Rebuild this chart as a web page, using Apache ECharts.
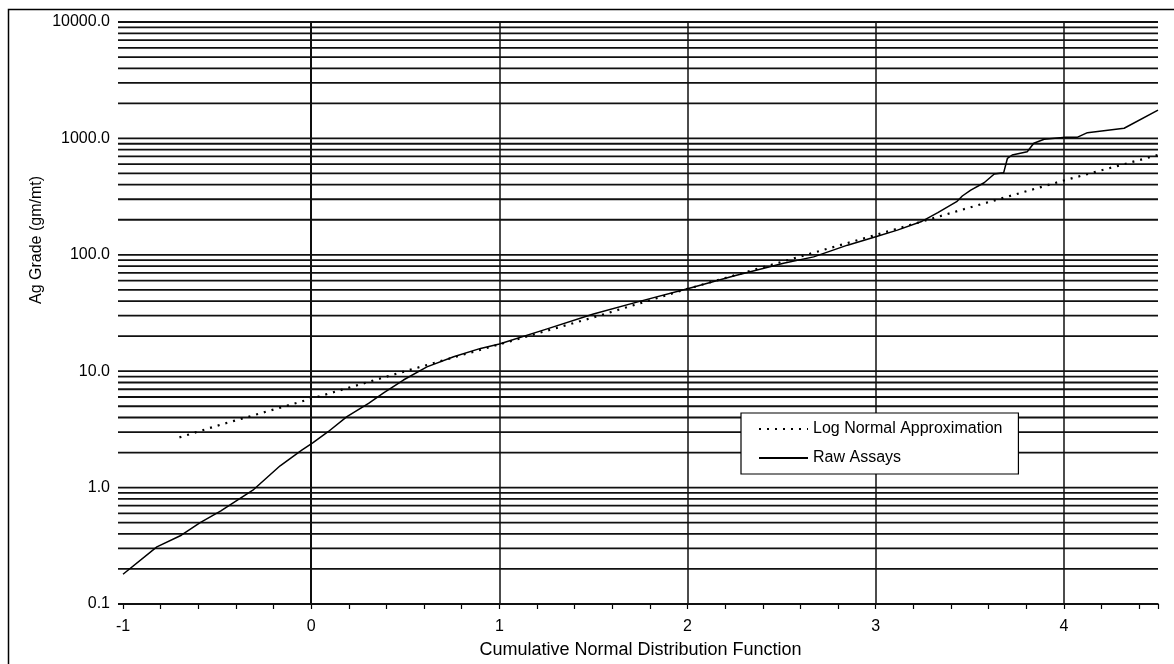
<!DOCTYPE html>
<html>
<head>
<meta charset="utf-8">
<title>Ag Grade probability plot</title>
<script src="https://cdn.jsdelivr.net/npm/echarts@6/dist/echarts.min.js"></script>
<style>
  html, body { margin: 0; padding: 0; background: #fff; }
  #chart { width: 1174px; height: 664px; }
</style>
</head>
<body>
<div id="chart"></div>
<script>
// values
const rawX = [-1, -0.82, -0.69, -0.59, -0.48, -0.31, -0.165, -0.05, 0.01, 0.09, 0.19, 0.305, 0.385, 0.49, 0.615, 0.757, 0.9, 1.0, 1.25, 1.5, 1.75, 2.0, 2.25, 2.51, 2.67, 2.85, 3.0, 3.115, 3.24, 3.33, 3.43, 3.46, 3.505, 3.576, 3.63, 3.68, 3.70, 3.725, 3.805, 3.84, 3.895, 4.01, 4.07, 4.125, 4.32, 4.5]
const rawGrade = [0.18, 0.31, 0.39, 0.50, 0.63, 0.95, 1.54, 2.1, 2.43, 3.02, 4.07, 5.3, 6.5, 8.4, 10.9, 13.3, 15.7, 17.1, 23, 31, 40, 51, 66, 84.6, 96, 121, 143, 163, 192, 230, 286, 320, 360, 416, 494, 508, 675, 720, 769, 908, 982, 1021, 1021, 1120, 1222, 1750]

const logNormalX = [-0.7, -0.5, 0, 0.5, 1, 1.5, 2, 2.5, 3, 3.5, 4, 4.5]
const logNormalGrade = [2.7, 3.4, 5.8, 10, 17, 29, 51, 87, 148, 255, 435, 720]

const xTickLabels = [-1, 0, 1, 2, 3, 4]
const yDecades = [0.1, 1, 10, 100, 1000, 10000]
const yMultipliers = [1, 2, 3, 4, 5, 6, 7, 8, 9]

// horizontal rules at every 1..9 x decade
const yGridValues = []
yDecades.forEach(d => {
  yMultipliers.forEach(m => {
    const v = +(d * m).toPrecision(3)
    if (v <= 10000) yGridValues.push(v)
  })
})

const FONT = 'Arial, "Liberation Sans", sans-serif'
const chart = echarts.init(document.getElementById('chart'))

const isInt = v => Math.abs(v - Math.round(v)) < 1e-6

const option = {
  animation: false,
  backgroundColor: '#fff',
  textStyle: { fontFamily: FONT, color: '#000' },
  graphic: [
    {
      type: 'rect',
      shape: { x: 8.5, y: 9.5, width: 1200, height: 700 },
      style: { fill: 'none', stroke: '#000', lineWidth: 1.5 },
      silent: true
    },
    {
      type: 'text',
      x: 37,
      y: 240,
      rotation: Math.PI / 2,
      style: {
        text: 'Ag Grade (gm/mt)',
        font: '16px ' + FONT,
        fill: '#000',
        align: 'center',
        verticalAlign: 'middle'
      }
    }
  ],
  grid: {
    left: 123,
    right: 16,
    top: 22,
    bottom: 60
  },
  legend: {
    data: ['Log Normal Approximation', 'Raw Assays'],
    orient: 'vertical',
    left: 741,
    top: 413,
    itemWidth: 49,
    itemHeight: 14,
    itemGap: 13,
    padding: [8, 16, 8, 17],
    backgroundColor: '#fff',
    borderColor: '#000',
    borderWidth: 1.2,
    itemStyle: { color: 'rgba(0,0,0,0)', borderWidth: 0 },
    textStyle: { fontFamily: FONT, fontSize: 16, color: '#000' },
    z: 10
  },
  xAxis: [
    {
      type: 'value',
      min: -1,
      max: 4.5,
      interval: 0.2,
      name: 'Cumulative Normal Distribution Function',
      nameLocation: 'middle',
      nameGap: 37,
      nameTextStyle: { fontFamily: FONT, fontSize: 18, color: '#000' },
      axisLine: { show: true, onZero: false, lineStyle: { color: '#000', width: 1.6 } },
      axisTick: { show: true, interval: 0, length: 5, lineStyle: { color: '#000', width: 1.2 } },
      axisLabel: {
        interval: 0,
        margin: 15,
        fontSize: 16,
        color: '#000',
        fontFamily: FONT,
        formatter: v => (isInt(v) && xTickLabels.indexOf(Math.round(v)) >= 0 ? String(Math.round(v)) : '')
      },
      splitLine: { show: false }
    },
    {
      type: 'value',
      min: -1,
      max: 4.5,
      interval: 1,
      position: 'bottom',
      axisLine: { show: false },
      axisTick: { show: false },
      axisLabel: { show: false },
      splitLine: {
        show: true,
        showMinLine: false,
        showMaxLine: false,
        lineStyle: { color: '#111', width: 1.5 }
      }
    }
  ],
  yAxis: {
    type: 'log',
    logBase: 10,
    min: 0.1,
    max: 10000,
    axisLine: { show: true, lineStyle: { color: '#000', width: 1.6 } },
    axisTick: { show: false },
    splitLine: { show: false },
    axisLabel: {
      margin: 13,
      fontSize: 16,
      color: '#000',
      fontFamily: FONT,
      formatter: v => Number(v).toFixed(1)
    }
  },
  series: [
    {
      name: 'grid rules',
      type: 'custom',
      silent: true,
      clip: false,
      z: 1,
      data: yGridValues.map(v => [-1, v]),
      renderItem(params, api) {
        const cs = params.coordSys
        const y = api.coord([-1, api.value(1)])[1]
        return {
          type: 'line',
          shape: { x1: cs.x - 5, y1: y, x2: cs.x + cs.width, y2: y },
          style: { stroke: '#111', lineWidth: 1.8 }
        }
      }
    },
    {
      name: 'Log Normal Approximation',
      type: 'line',
      symbol: 'none',
      z: 3,
      data: logNormalX.map((x, i) => [x, logNormalGrade[i]]),
      lineStyle: { color: '#000', width: 2.2, type: [2, 6] },
      itemStyle: { color: '#000' }
    },
    {
      name: 'Raw Assays',
      type: 'line',
      symbol: 'none',
      z: 4,
      data: rawX.map((x, i) => [x, rawGrade[i]]),
      lineStyle: { color: '#000', width: 1.5, type: 'solid' },
      itemStyle: { color: '#000' }
    }
  ]
}

chart.setOption(option)
</script>
</body>
</html>
